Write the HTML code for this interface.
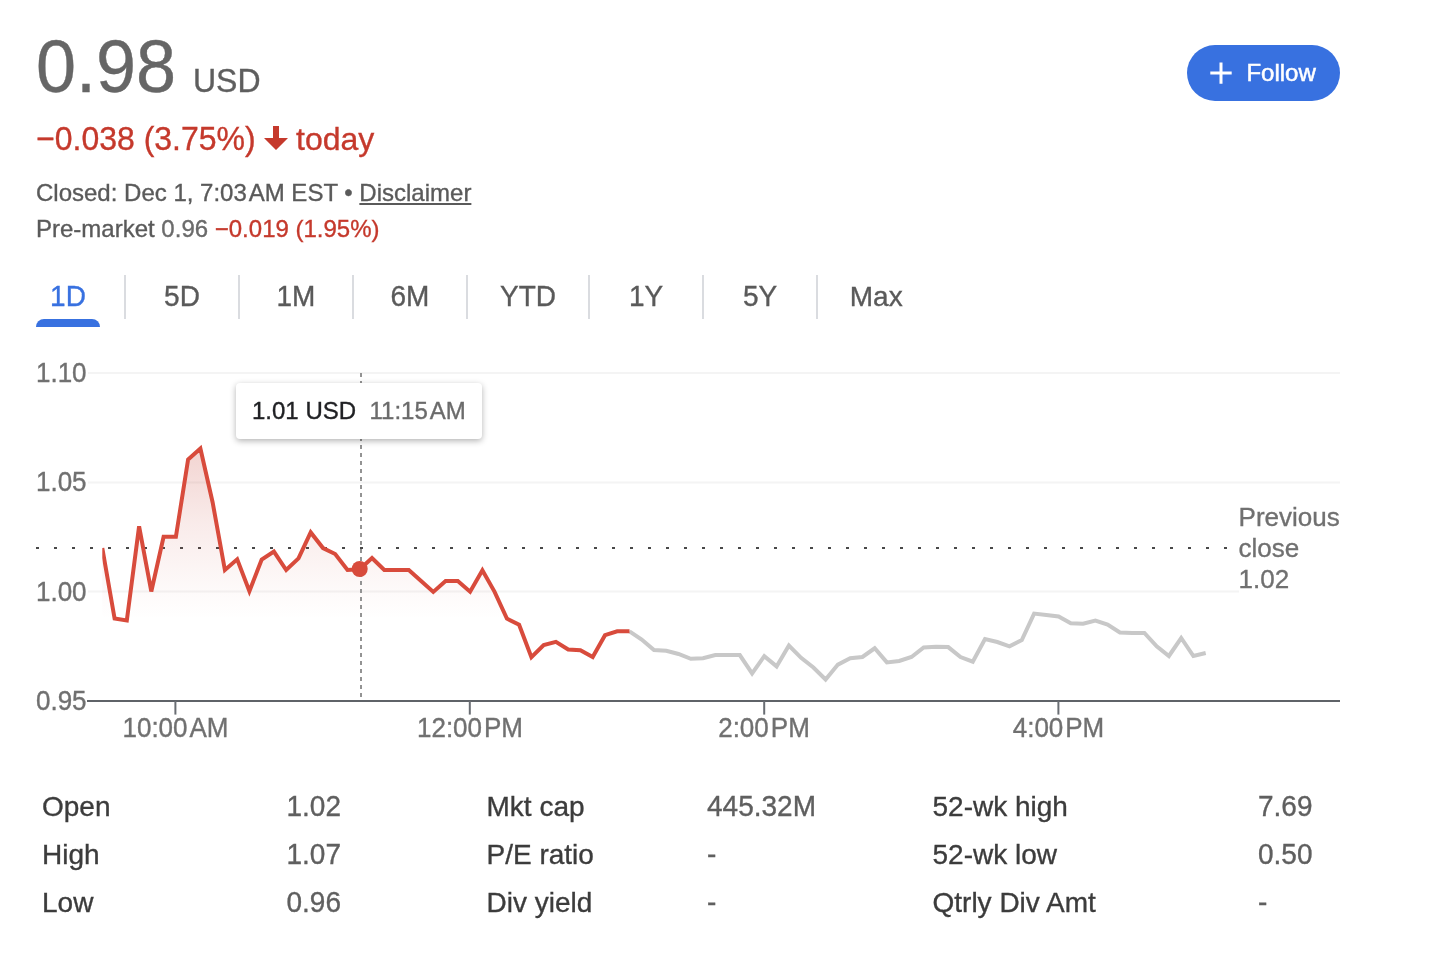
<!DOCTYPE html>
<html lang="en"><head><meta charset="utf-8"><title>Stock quote</title>
<style>
html,body{margin:0;padding:0;background:#fff;}
body{width:1432px;height:960px;position:relative;overflow:hidden;font-family:"Liberation Sans",sans-serif;}
.t{position:absolute;line-height:1;white-space:nowrap;-webkit-text-stroke:0.35px currentColor;}
.ns{display:inline-block;width:0.08em;}
.sep{position:absolute;top:275px;width:2px;height:44px;background:#dadce0;}
svg{position:absolute;left:0;top:0;}
svg text{font-family:"Liberation Sans",sans-serif;stroke:#707070;stroke-width:0.35px;}
</style></head><body>

<div class="t" style="left:36px;top:31.05px;font-size:72px;color:#666;transform:scaleY(1.04);transform-origin:0 84.65%;">0.98</div>
<div class="t" style="left:193px;top:64.91px;font-size:32px;color:#5e5e5e;transform:scaleY(1.04);transform-origin:0 84.65%;">USD</div>
<div class="t" style="left:36px;top:122.91px;font-size:32px;color:#c5392c;transform:scaleY(1.04);transform-origin:0 84.65%;">−0.038 (3.75%)</div>
<div class="t" style="left:296px;top:122.91px;font-size:32px;color:#c5392c;">today</div>
<svg width="1432" height="960" style="pointer-events:none"><path d="M273,126 h6 v12 h9 l-12,12 l-12,-12 h9 z" fill="#c5392c"/></svg>
<div class="t" style="left:36px;top:180.68px;font-size:24px;color:#5a5a5a;">Closed: Dec 1, 7:03<span class="ns"></span>AM EST • <span style="text-decoration:underline">Disclaimer</span></div>
<div class="t" style="left:36px;top:216.68px;font-size:24px;color:#5a5a5a;">Pre-market <span style="color:#6b6b6b">0.96</span> <span style="color:#c5392c">−0.019 (1.95%)</span></div>
<div style="position:absolute;left:1187px;top:45px;width:153px;height:56px;border-radius:28px;background:#3871e0;"></div>
<svg width="1432" height="960"><path d="M1210.3,73 h21.4 M1221,62.4 v21.3" stroke="#fff" stroke-width="3" fill="none"/></svg>
<div class="t" style="left:1246.4px;top:60.68px;font-size:24px;color:#fff;-webkit-text-stroke:0.5px #fff;">Follow</div>
<div class="t" style="left:8px;width:120px;text-align:center;top:282.80px;font-size:28px;color:#3871e0;transform:scaleY(1.04);transform-origin:0 84.65%">1D</div>
<div class="t" style="left:122px;width:120px;text-align:center;top:282.80px;font-size:28px;color:#5a5a5a;transform:scaleY(1.04);transform-origin:0 84.65%">5D</div>
<div class="t" style="left:236px;width:120px;text-align:center;top:282.80px;font-size:28px;color:#5a5a5a;transform:scaleY(1.04);transform-origin:0 84.65%">1M</div>
<div class="t" style="left:350px;width:120px;text-align:center;top:282.80px;font-size:28px;color:#5a5a5a;transform:scaleY(1.04);transform-origin:0 84.65%">6M</div>
<div class="t" style="left:468px;width:120px;text-align:center;top:282.80px;font-size:28px;color:#5a5a5a;transform:scaleY(1.04);transform-origin:0 84.65%">YTD</div>
<div class="t" style="left:586px;width:120px;text-align:center;top:282.80px;font-size:28px;color:#5a5a5a;transform:scaleY(1.04);transform-origin:0 84.65%">1Y</div>
<div class="t" style="left:700px;width:120px;text-align:center;top:282.80px;font-size:28px;color:#5a5a5a;transform:scaleY(1.04);transform-origin:0 84.65%">5Y</div>
<div class="t" style="left:816.2px;width:120px;text-align:center;top:282.80px;font-size:28px;color:#5a5a5a;transform:scaleY(1);transform-origin:0 84.65%">Max</div>
<div class="sep" style="left:124px"></div>
<div class="sep" style="left:238px"></div>
<div class="sep" style="left:352px"></div>
<div class="sep" style="left:466px"></div>
<div class="sep" style="left:588px"></div>
<div class="sep" style="left:702px"></div>
<div class="sep" style="left:816px"></div>
<div style="position:absolute;left:36px;top:319px;width:64px;height:8px;background:#3871e0;border-radius:8px 8px 0 0"></div>
<svg width="1432" height="960" viewBox="0 0 1432 960">
<defs><linearGradient id="g" gradientUnits="userSpaceOnUse" x1="0" y1="448" x2="0" y2="700">
<stop offset="0" stop-color="#c5392c" stop-opacity="0.22"/>
<stop offset="0.3" stop-color="#c5392c" stop-opacity="0.10"/>
<stop offset="0.55" stop-color="#c5392c" stop-opacity="0.03"/>
<stop offset="0.68" stop-color="#c5392c" stop-opacity="0"/>
</linearGradient></defs>
<line x1="88" x2="1340" y1="373" y2="373" stroke="#f4f4f4" stroke-width="2"/>
<line x1="88" x2="1340" y1="482.4" y2="482.4" stroke="#f4f4f4" stroke-width="2"/>
<line x1="88" x2="1239" y1="591.6" y2="591.6" stroke="#f4f4f4" stroke-width="2"/>
<line x1="87" x2="1340" y1="701" y2="701" stroke="#5f6368" stroke-width="2"/>
<line x1="175.4" x2="175.4" y1="701" y2="714.6" stroke="#696d73" stroke-width="2"/>
<line x1="469.8" x2="469.8" y1="701" y2="714.6" stroke="#696d73" stroke-width="2"/>
<line x1="764.2" x2="764.2" y1="701" y2="714.6" stroke="#696d73" stroke-width="2"/>
<line x1="1058.4" x2="1058.4" y1="701" y2="714.6" stroke="#696d73" stroke-width="2"/>
<line x1="36" x2="1228" y1="548" y2="548" stroke="#484848" stroke-width="2" stroke-dasharray="3 15"/>
<path d="M102.3,700 L102.3,548 L114.6,618.6 L126.8,620.4 L139.1,526.3 L151.3,591.5 L163.6,536.8 L175.9,536.8 L188.1,459.5 L200.4,448.6 L212.6,502.2 L224.9,570 L237.2,559.3 L249.4,591.2 L261.7,559.5 L273.9,551.6 L286.2,570 L298.5,558.4 L310.7,532.4 L323.0,548.1 L335.2,554 L347.5,570 L359.8,569.2 L372.0,558 L384.3,570 L396.5,570 L408.8,570 L421.1,581 L433.3,591.9 L445.6,581 L457.8,581 L470.1,591.7 L482.4,570.3 L494.6,591.8 L506.9,618.6 L519.1,624.7 L531.4,657.1 L543.7,645 L555.9,641.8 L568.2,649.5 L580.4,650.3 L592.7,657.1 L605.0,635.2 L617.2,631.3 L629.5,631.3 L629.5,700 Z" fill="url(#g)"/>
<polyline points="629.5,631.3 641.7,639.5 654.0,650 666.3,650.8 678.5,654 690.8,658.8 703.0,658.3 715.3,655.1 727.6,655.1 739.8,655.1 752.1,673.4 764.3,656.1 776.6,666.4 788.9,645.6 801.1,657.8 813.4,667.5 825.6,679.5 837.9,664.6 850.2,658.3 862.4,657 874.7,648.3 886.9,662.4 899.2,661 911.5,657 923.7,647.4 936.0,646.8 948.2,647.1 960.5,657 972.8,661.7 985.0,639.1 997.3,642 1009.5,646.4 1021.8,640.1 1034.1,613.6 1046.3,615 1058.6,616.5 1070.8,623.3 1083.1,623.8 1095.4,620.6 1107.6,624.5 1119.9,632.5 1132.1,633 1144.4,633 1156.7,646.4 1168.9,656 1181.2,638 1193.4,656 1205.7,653" fill="none" stroke="#c8c8c8" stroke-width="4"/>
<clipPath id="cp"><rect x="102.3" y="360" width="1240" height="345"/></clipPath>
<polyline points="102.3,548 114.6,618.6 126.8,620.4 139.1,526.3 151.3,591.5 163.6,536.8 175.9,536.8 188.1,459.5 200.4,448.6 212.6,502.2 224.9,570 237.2,559.3 249.4,591.2 261.7,559.5 273.9,551.6 286.2,570 298.5,558.4 310.7,532.4 323.0,548.1 335.2,554 347.5,570 359.8,569.2 372.0,558 384.3,570 396.5,570 408.8,570 421.1,581 433.3,591.9 445.6,581 457.8,581 470.1,591.7 482.4,570.3 494.6,591.8 506.9,618.6 519.1,624.7 531.4,657.1 543.7,645 555.9,641.8 568.2,649.5 580.4,650.3 592.7,657.1 605.0,635.2 617.2,631.3 629.5,631.3" fill="none" stroke="#d84b3c" stroke-width="4" clip-path="url(#cp)"/>
<line x1="361" x2="361" y1="373" y2="700" stroke="#939393" stroke-width="2" stroke-dasharray="4 4"/>
<circle cx="359.7" cy="569" r="8" fill="#d84b3c"/>
<text x="36" y="382.2" font-size="26" fill="#707070" transform="translate(0,382.2) scale(1,1.04) translate(0,-382.2)">1.10</text>
<text x="36" y="491.2" font-size="26" fill="#707070" transform="translate(0,491.2) scale(1,1.04) translate(0,-491.2)">1.05</text>
<text x="36" y="600.7" font-size="26" fill="#707070" transform="translate(0,600.7) scale(1,1.04) translate(0,-600.7)">1.00</text>
<text x="36" y="709.7" font-size="26" fill="#707070" transform="translate(0,709.7) scale(1,1.04) translate(0,-709.7)">0.95</text>
<text x="175.5" y="737.3" font-size="26" fill="#707070" text-anchor="middle" transform="translate(0,737.3) scale(1,1.04) translate(0,-737.3)">10:00<tspan dx="2">AM</tspan></text>
<text x="470" y="737.3" font-size="26" fill="#707070" text-anchor="middle" transform="translate(0,737.3) scale(1,1.04) translate(0,-737.3)">12:00<tspan dx="2">PM</tspan></text>
<text x="764" y="737.3" font-size="26" fill="#707070" text-anchor="middle" transform="translate(0,737.3) scale(1,1.04) translate(0,-737.3)">2:00<tspan dx="2">PM</tspan></text>
<text x="1058.5" y="737.3" font-size="26" fill="#707070" text-anchor="middle" transform="translate(0,737.3) scale(1,1.04) translate(0,-737.3)">4:00<tspan dx="2">PM</tspan></text>
<text font-size="26" fill="#707070"><tspan x="1238.6" y="526">Previous</tspan><tspan x="1238.6" y="557.2">close</tspan><tspan x="1238.6" y="587.8">1.02</tspan></text>
</svg>
<div style="position:absolute;left:236px;top:383px;width:246px;height:56px;background:#fff;border-radius:4px;box-shadow:0 2px 6px rgba(0,0,0,0.3)"></div>
<div class="t" style="left:252px;top:398.88px;font-size:24px;color:#202124;">1.01 USD</div>
<div class="t" style="left:369.5px;top:398.88px;font-size:24px;color:#6b6b6b;">11:15<span class="ns"></span>AM</div>
<div class="t" style="left:42px;top:792.80px;font-size:28px;color:#3c3c3c;">Open</div>
<div class="t" style="left:286.5px;top:792.80px;font-size:28px;color:#5f5f5f;transform:scaleY(1.04);transform-origin:0 84.65%;">1.02</div>
<div class="t" style="left:42px;top:840.80px;font-size:28px;color:#3c3c3c;">High</div>
<div class="t" style="left:286.5px;top:840.80px;font-size:28px;color:#5f5f5f;transform:scaleY(1.04);transform-origin:0 84.65%;">1.07</div>
<div class="t" style="left:42px;top:888.80px;font-size:28px;color:#3c3c3c;">Low</div>
<div class="t" style="left:286.5px;top:888.80px;font-size:28px;color:#5f5f5f;transform:scaleY(1.04);transform-origin:0 84.65%;">0.96</div>
<div class="t" style="left:486.5px;top:792.80px;font-size:28px;color:#3c3c3c;">Mkt cap</div>
<div class="t" style="left:707px;top:792.80px;font-size:28px;color:#5f5f5f;transform:scaleY(1.04);transform-origin:0 84.65%;">445.32M</div>
<div class="t" style="left:486.5px;top:840.80px;font-size:28px;color:#3c3c3c;">P/E ratio</div>
<div class="t" style="left:707px;top:840.80px;font-size:28px;color:#5f5f5f;transform:scaleY(1.04);transform-origin:0 84.65%;">-</div>
<div class="t" style="left:486.5px;top:888.80px;font-size:28px;color:#3c3c3c;">Div yield</div>
<div class="t" style="left:707px;top:888.80px;font-size:28px;color:#5f5f5f;transform:scaleY(1.04);transform-origin:0 84.65%;">-</div>
<div class="t" style="left:932.5px;top:792.80px;font-size:28px;color:#3c3c3c;">52-wk high</div>
<div class="t" style="left:1258px;top:792.80px;font-size:28px;color:#5f5f5f;transform:scaleY(1.04);transform-origin:0 84.65%;">7.69</div>
<div class="t" style="left:932.5px;top:840.80px;font-size:28px;color:#3c3c3c;">52-wk low</div>
<div class="t" style="left:1258px;top:840.80px;font-size:28px;color:#5f5f5f;transform:scaleY(1.04);transform-origin:0 84.65%;">0.50</div>
<div class="t" style="left:932.5px;top:888.80px;font-size:28px;color:#3c3c3c;">Qtrly Div Amt</div>
<div class="t" style="left:1258px;top:888.80px;font-size:28px;color:#5f5f5f;transform:scaleY(1.04);transform-origin:0 84.65%;">-</div>
</body></html>
